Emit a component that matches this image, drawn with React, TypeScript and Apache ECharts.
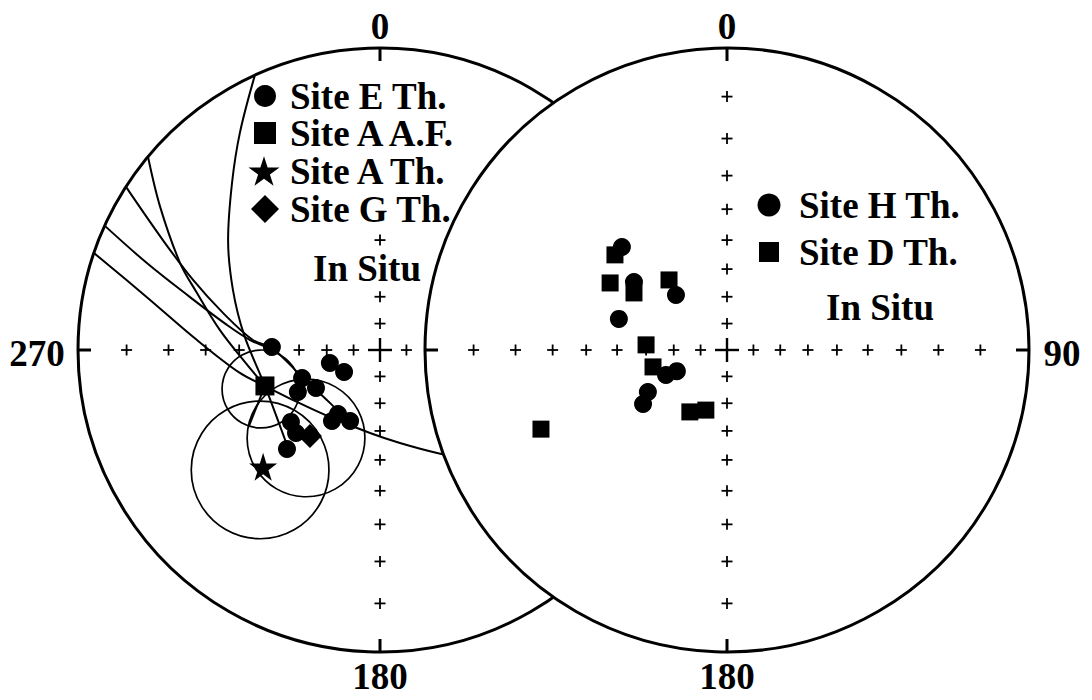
import React, { useEffect, useRef } from "react";
import * as echarts from "echarts";

// Stereonet tick marks: inclinations (deg) marked along the N-S and E-W axes
const inclinationTicks = [10, 20, 30, 40, 50, 60, 70, 80];

// ---- Left stereonet (net units: east, north; primitive radius = 1) ----
const siteE_Th: number[][] = [
  [-0.358, 0.010], [-0.166, -0.043], [-0.119, -0.073], [-0.258, -0.093],
  [-0.272, -0.139], [-0.212, -0.126], [-0.139, -0.212], [-0.159, -0.235],
  [-0.099, -0.235], [-0.295, -0.238], [-0.278, -0.275], [-0.308, -0.328],
];
const siteA_AF: number[][] = [[-0.381, -0.119]];
const siteA_Th: number[][] = [[-0.387, -0.387]];
const siteG_Th: number[][] = [[-0.232, -0.285]];

// alpha95 confidence circles: [east, north, radius]
const alpha95: number[][] = [
  [-0.394, -0.129, 0.129],
  [-0.397, -0.397, 0.228],
  [-0.245, -0.291, 0.195],
];

// remagnetisation great-circle traces
const greatCircle1: number[][] = [
  [-0.414, 0.911], [-0.464, 0.719], [-0.49, 0.553], [-0.503, 0.364],
  [-0.487, 0.199], [-0.45, 0.05], [-0.381, -0.119], [-0.308, -0.315],
];
const greatCircle2: number[][] = [
  [-0.768, 0.639], [-0.728, 0.474], [-0.662, 0.288], [-0.606, 0.189],
  [-0.53, 0.066], [-0.447, -0.04], [-0.381, -0.119],
];
const greatCircle3: number[][] = [
  [-0.841, 0.54], [-0.719, 0.364], [-0.619, 0.232], [-0.52, 0.123],
  [-0.421, 0.033], [-0.358, 0.007], [-0.258, -0.089], [-0.166, -0.175], [-0.116, -0.225],
];
const greatCircle4: number[][] = [
  [-0.911, 0.411], [-0.772, 0.288], [-0.629, 0.175], [-0.507, 0.083],
  [-0.43, 0.033], [-0.358, 0.003],
];
const greatCircle5: number[][] = [
  [-0.947, 0.321], [-0.772, 0.175], [-0.606, 0.033], [-0.464, -0.076],
  [-0.381, -0.119], [-0.275, -0.172], [-0.166, -0.222], [-0.033, -0.275],
  [0.066, -0.308], [0.189, -0.341], [0.265, -0.354],
];
const greatCircle6: number[][] = [[-0.381, -0.119], [-0.434, -0.252]];

// ---- Right stereonet ----
const siteH_Th: number[][] = [
  [-0.348, 0.341], [-0.308, 0.225], [-0.169, 0.182], [-0.358, 0.103],
  [-0.166, -0.07], [-0.202, -0.083], [-0.262, -0.139], [-0.278, -0.179],
];
const siteD_Th: number[][] = [
  [-0.371, 0.315], [-0.387, 0.222], [-0.308, 0.189], [-0.192, 0.232],
  [-0.268, 0.017], [-0.245, -0.056], [-0.123, -0.205], [-0.07, -0.199],
  [-0.616, -0.262],
];

const leftLegend = ["Site E Th.", "Site A A.F.", "Site A Th.", "Site G Th."];
const rightLegend = ["Site H Th.", "Site D Th."];
const netLabelsLeft = ["0", "180", "270"];
const netLabelsRight = ["0", "180", "90"];

const FONT = '"Liberation Serif", "Times New Roman", serif';
const STAR =
  "path://M50,2L61.2,36.6L97.6,36.5L68.1,57.9L79.4,92.5L50,71L20.6,92.5L31.9,57.9L2.4,36.5L38.8,36.6Z";

function tickData(): number[][] {
  const d: number[][] = [];
  inclinationTicks.forEach((inc) => {
    const r = Math.tan(((90 - inc) / 2) * (Math.PI / 180));
    d.push([0, r, 0, 0, 0], [0, -r, 0, 0, 0], [r, 0, 0, 0, 0], [-r, 0, 0, 0, 0]);
  });
  d.push([0, 0, 1, 0, 0]);
  d.push([0, 1, 2, 0, 1], [0, -1, 2, 0, -1], [1, 0, 2, -1, 0], [-1, 0, 2, 1, 0]);
  return d;
}

const renderTicks = (params: any, api: any) => {
  const p = api.coord([api.value(0), api.value(1)]);
  const kind = api.value(2);
  if (kind === 2) {
    const dx = api.value(3);
    const dy = api.value(4);
    return {
      type: "line",
      shape: { x1: p[0], y1: p[1], x2: p[0] + dx * 13, y2: p[1] + dy * 13 },
      style: { stroke: "#000", lineWidth: 3 },
    };
  }
  const s = kind === 1 ? 12 : 5.5;
  const lw = kind === 1 ? 2.4 : 1.8;
  return {
    type: "group",
    children: [
      { type: "line", shape: { x1: p[0] - s, y1: p[1], x2: p[0] + s, y2: p[1] }, style: { stroke: "#000", lineWidth: lw } },
      { type: "line", shape: { x1: p[0], y1: p[1] - s, x2: p[0], y2: p[1] + s }, style: { stroke: "#000", lineWidth: lw } },
    ],
  };
};

const renderCircle = (lw: number, fill: string) => (params: any, api: any) => {
  const c = api.coord([api.value(0), api.value(1)]);
  const r = api.size([api.value(2), 0])[0];
  return {
    type: "circle",
    shape: { cx: c[0], cy: c[1], r },
    style: { fill, stroke: "#000", lineWidth: lw },
  };
};

function gcSeries(data: number[][]) {
  return {
    type: "line",
    xAxisIndex: 0,
    yAxisIndex: 0,
    data,
    smooth: 0.35,
    symbol: "none",
    silent: true,
    z: 3,
    lineStyle: { color: "#000", width: 2 },
  };
}

function scatter(name: string, data: number[][], axis: number, symbol: string, size: number, z: number) {
  return {
    type: "scatter",
    name,
    xAxisIndex: axis,
    yAxisIndex: axis,
    data,
    symbol,
    symbolSize: size,
    z,
    itemStyle: { color: "#000", opacity: 1 },
  };
}

function textEl(text: string, x: number, y: number, bg?: string) {
  return {
    type: "text",
    x,
    y,
    z: 20,
    style: {
      text,
      font: `bold 37px ${FONT}`,
      fill: "#000",
      align: "center",
      verticalAlign: "middle",
      backgroundColor: bg,
    },
  };
}

// one legend entry: icon centred at iconX, text starting at textX, row centred at rowY
function legendItem(name: string, iconX: number, textX: number, rowY: number, size: number, z: number) {
  const left = iconX - size / 2;
  return {
    orient: "vertical",
    left,
    top: rowY - 18.5,
    itemWidth: size,
    itemHeight: size,
    padding: 0,
    z,
    selectedMode: false,
    data: [name],
    textStyle: {
      fontFamily: FONT,
      fontWeight: "bold",
      fontSize: 37,
      color: "#000",
      backgroundColor: "#fff",
      padding: [0, 0, 0, textX - (left + size + 5)],
    },
  };
}

export default function App() {
  const ref = useRef<HTMLDivElement>(null);
  useEffect(() => {
    if (!ref.current) return;
    const chart = echarts.init(ref.current, undefined, { renderer: "svg" });
    const ticks = tickData();
    chart.setOption({
      animation: false,
      backgroundColor: "#fff",
      grid: [
        { left: 78, top: 48, width: 604, height: 604 },
        { left: 425, top: 48, width: 604, height: 604 },
      ],
      xAxis: [
        { gridIndex: 0, type: "value", min: -1, max: 1, show: false },
        { gridIndex: 1, type: "value", min: -1, max: 1, show: false },
      ],
      yAxis: [
        { gridIndex: 0, type: "value", min: -1, max: 1, show: false },
        { gridIndex: 1, type: "value", min: -1, max: 1, show: false },
      ],
      legend: [
        legendItem(leftLegend[0], 265, 290, 96, 22, 6),
        legendItem(leftLegend[1], 265, 290, 133, 22, 6),
        legendItem(leftLegend[2], 264, 290, 171, 31, 6),
        legendItem(leftLegend[3], 265, 290, 209, 28, 6),
        legendItem(rightLegend[0], 769, 799, 205, 23, 20),
        legendItem(rightLegend[1], 769, 799, 252, 20, 20),
      ],
      graphic: [
        textEl(netLabelsLeft[0], 380, 26),
        textEl(netLabelsLeft[1], 380, 676),
        textEl(netLabelsLeft[2], 37, 353),
        textEl(netLabelsRight[0], 727, 26),
        textEl(netLabelsRight[1], 727, 676),
        textEl(netLabelsRight[2], 1062, 353),
        { ...textEl("In Situ", 367, 268, "#fff"), z: 5 },
        textEl("In Situ", 880, 307),
      ],
      series: [
        // left net
        {
          type: "custom",
          coordinateSystem: "cartesian2d",
          xAxisIndex: 0,
          yAxisIndex: 0,
          data: [[0, 0, 1]],
          renderItem: renderCircle(3, "#fff"),
          silent: true,
          z: 1,
        },
        {
          type: "custom",
          coordinateSystem: "cartesian2d",
          xAxisIndex: 0,
          yAxisIndex: 0,
          data: ticks,
          renderItem: renderTicks,
          silent: true,
          z: 2,
        },
        gcSeries(greatCircle1),
        gcSeries(greatCircle2),
        gcSeries(greatCircle3),
        gcSeries(greatCircle4),
        gcSeries(greatCircle5),
        gcSeries(greatCircle6),
        {
          type: "custom",
          coordinateSystem: "cartesian2d",
          xAxisIndex: 0,
          yAxisIndex: 0,
          data: alpha95,
          renderItem: renderCircle(1.7, "none"),
          silent: true,
          z: 3,
        },
        scatter(leftLegend[0], siteE_Th, 0, "circle", 18, 4),
        scatter(leftLegend[1], siteA_AF, 0, "rect", 19, 4),
        scatter(leftLegend[2], siteA_Th, 0, STAR, 28, 4),
        scatter(leftLegend[3], siteG_Th, 0, "diamond", 24, 4),
        // right net (white disc drawn over the left net)
        {
          type: "custom",
          coordinateSystem: "cartesian2d",
          xAxisIndex: 1,
          yAxisIndex: 1,
          data: [[0, 0, 1]],
          renderItem: renderCircle(3, "#fff"),
          silent: true,
          z: 10,
        },
        {
          type: "custom",
          coordinateSystem: "cartesian2d",
          xAxisIndex: 1,
          yAxisIndex: 1,
          data: ticks,
          renderItem: renderTicks,
          silent: true,
          z: 11,
        },
        scatter(rightLegend[1], siteD_Th, 1, "rect", 17, 12),
        scatter(rightLegend[0], siteH_Th, 1, "circle", 18, 12),
      ],
    });
    return () => chart.dispose();
  }, []);
  return (
    <div
      ref={ref}
      style={{ position: "absolute", left: 0, top: 0, width: 1092, height: 700 }}
    />
  );
}
